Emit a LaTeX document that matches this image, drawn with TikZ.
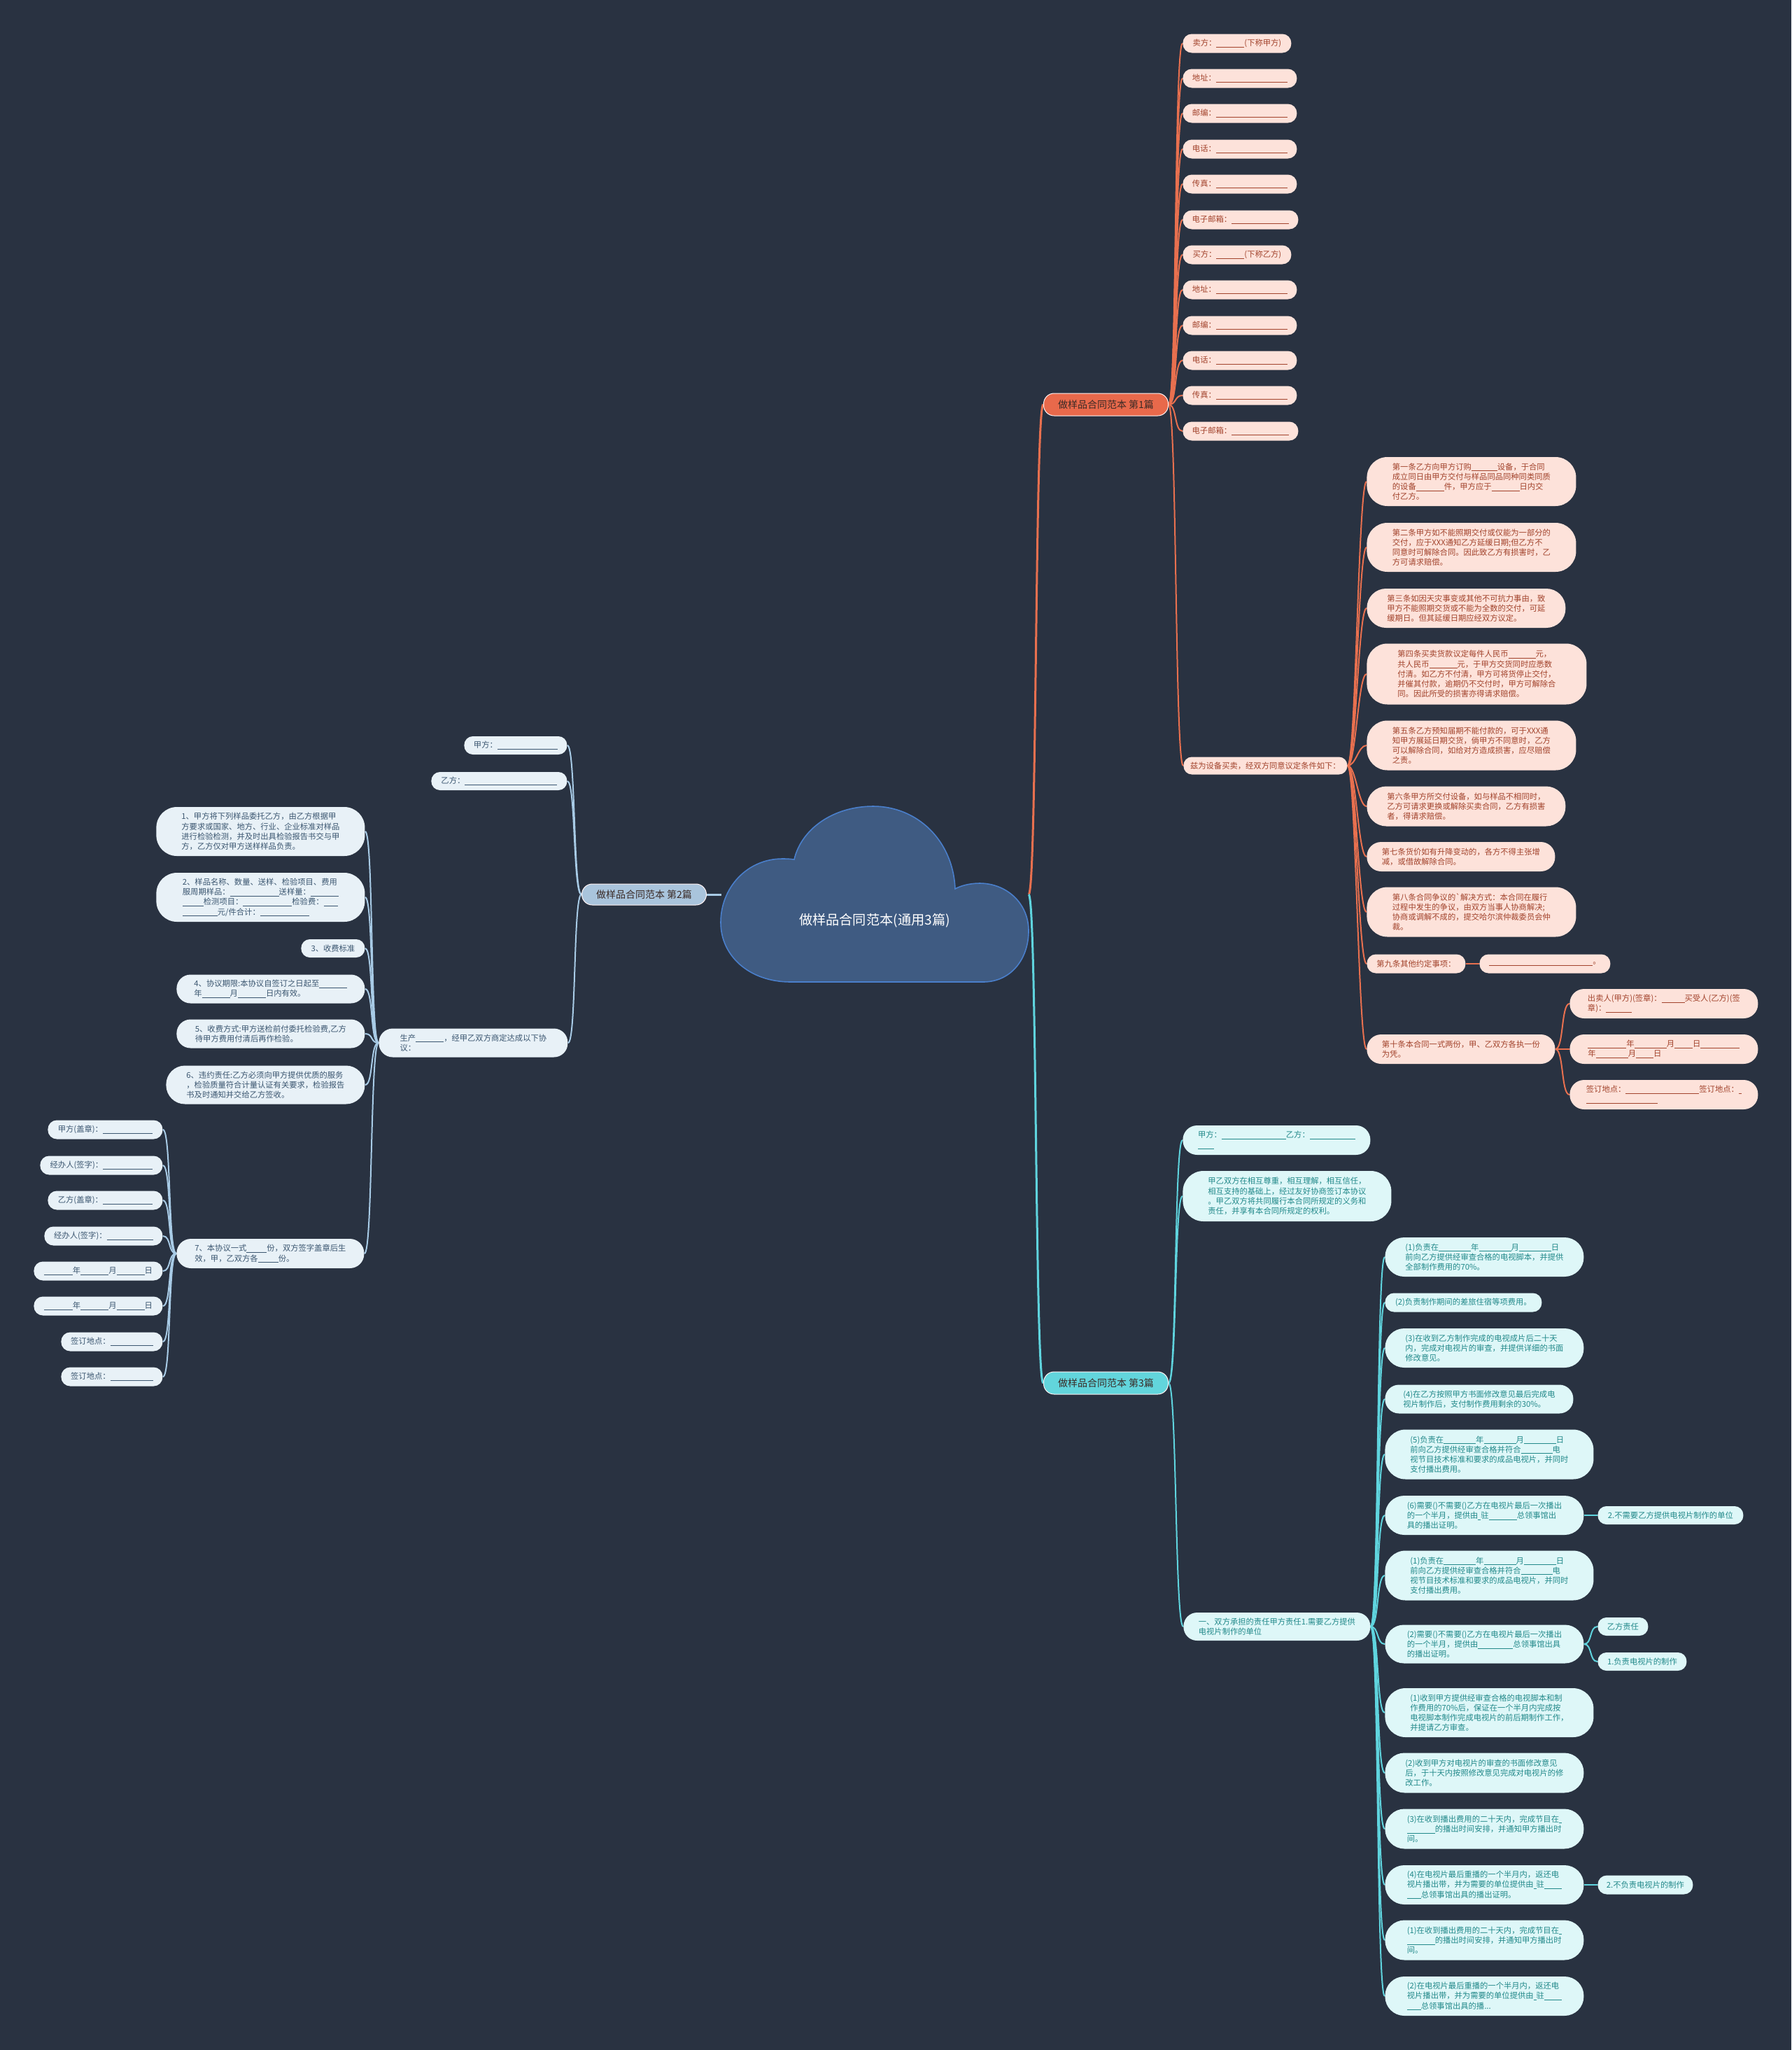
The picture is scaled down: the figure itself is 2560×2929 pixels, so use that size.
\documentclass[tikz,border=0pt]{standalone}
\usepackage{fontspec}
\newfontfamily\cjk{Noto Sans CJK SC}
\usetikzlibrary{backgrounds}
\newdimen\px \px=0.5pt
\newcommand\bl[1]{\rule[-0.9pt]{#1\px}{0.3pt}}
\definecolor{bgc}{HTML}{293241}
\definecolor{cloudf}{HTML}{3F5B82}
\definecolor{cloudd}{HTML}{4A7FCB}
\definecolor{oline}{HTML}{E8704F}
\definecolor{onode}{HTML}{E8694B}
\definecolor{oleaf}{HTML}{FDE2DA}
\definecolor{otext}{HTML}{A2432C}
\definecolor{bline}{HTML}{A8CBE6}
\definecolor{bnode}{HTML}{A9C4DC}
\definecolor{bleaf}{HTML}{E8F1F7}
\definecolor{btext}{HTML}{3B5670}
\definecolor{cline}{HTML}{5FD4DE}
\definecolor{cnode}{HTML}{62D5DC}
\definecolor{cleaf}{HTML}{DEF7F8}
\definecolor{ctext}{HTML}{22898A}
\definecolor{mtext}{HTML}{3A2A26}
\tikzset{
  tx/.style={font=\cjk\fontsize{5.65pt}{7.1pt}\selectfont, align=left, inner sep=0pt},
  lo/.style={tx, fill=oleaf, text=otext},
  lb/.style={tx, fill=bleaf, text=btext},
  lc/.style={tx, fill=cleaf, text=ctext},
  mainnode/.style={font=\cjk\fontsize{7pt}{8pt}\selectfont, inner sep=0pt, rounded corners=7.5pt, draw=white!80!pink, line width=0.5pt},
  wo/.style={draw=oline, line width=1pt},
  wb/.style={draw=bline, line width=1pt},
  wc/.style={draw=cline, line width=1pt},
}
\newcommand\bx[7]{\node[#1,anchor=west,minimum width=#5*0.5pt,minimum height=#6*0.5pt,rounded corners={(min(#6/2,30)-0.6)*0.5pt}] (#2) at (#3,#4) {#7};}
\newcommand\cR[3]{\draw[#1] (#2.east) .. controls +(12,0) and +(-12,0) .. (#3.west);}
\newcommand\cL[3]{\draw[#1] (#2.west) .. controls +(-12,0) and +(12,0) .. (#3.east);}
\begin{document}
\begin{tikzpicture}[x=0.5pt,y=-0.5pt]
\useasboundingbox (0,0) rectangle (2560,2929);
% ---------- root cloud ----------
\draw[fill=cloudf, draw=cloudd, line width=0.8pt]
  (1130,1403) -- (1405,1403) .. controls (1445,1403) and (1470,1370) .. (1470,1330)
  .. controls (1470,1290) and (1438,1262) .. (1400,1262)
  .. controls (1385,1262) and (1372,1266) .. (1365,1270)
  .. controls (1362,1200) and (1310,1152) .. (1248,1152)
  .. controls (1190,1152) and (1145,1185) .. (1135,1228)
  .. controls (1128,1227) and (1122,1227) .. (1118,1227)
  .. controls (1068,1227) and (1030,1268) .. (1030,1318)
  .. controls (1030,1365) and (1070,1403) .. (1130,1403) -- cycle;
\node[font=\cjk\fontsize{9.6pt}{11pt}\selectfont, text=white] (root) at (1250,1315) {做样品合同范本(通用3篇)};
\coordinate (rootR) at (1470,1278);
\coordinate (rootL) at (1031,1278);
% ---------- main branches ----------
\node[mainnode, fill=onode, text=mtext, anchor=west, minimum width=89pt, minimum height=16pt] (m1) at (1491,578) {做样品合同范本 第1篇};
\node[mainnode, fill=bnode, text=mtext, anchor=west, minimum width=89pt, minimum height=15pt] (m2) at (831,1278) {做样品合同范本 第2篇};
\node[mainnode, fill=cnode, text=mtext, anchor=west, minimum width=89pt, minimum height=16pt] (m3) at (1491,1976) {做样品合同范本 第3篇};
% ---------- branch 1 ----------
\bx{lo}{n1a}{1690}{62}{155}{27}{卖方：\bl{40}(下称甲方)}
\bx{lo}{n1b}{1690}{112}{163}{27}{地址：\bl{102}}
\bx{lo}{n1c}{1690}{162}{163}{27}{邮编：\bl{102}}
\bx{lo}{n1d}{1690}{213}{163}{27}{电话：\bl{102}}
\bx{lo}{n1e}{1690}{263}{163}{27}{传真：\bl{102}}
\bx{lo}{n1f}{1690}{314}{165}{27}{电子邮箱：\bl{82}}
\bx{lo}{n1g}{1690}{364}{155}{27}{买方：\bl{40}(下称乙方)}
\bx{lo}{n1h}{1690}{414}{163}{27}{地址：\bl{102}}
\bx{lo}{n1i}{1690}{465}{163}{27}{邮编：\bl{102}}
\bx{lo}{n1j}{1690}{515}{163}{27}{电话：\bl{102}}
\bx{lo}{n1k}{1690}{565}{163}{27}{传真：\bl{102}}
\bx{lo}{n1l}{1690}{616}{165}{27}{电子邮箱：\bl{82}}
\bx{lo}{n1m}{1691}{1094}{234}{25}{兹为设备买卖，经双方同意议定条件如下：}
\bx{lo}{a1}{1953}{688}{299}{70}{第一条乙方向甲方订购\bl{37}设备，于合同\\成立同日由甲方交付与样品同品同种同类同质\\的设备\bl{40}件，甲方应于\bl{40}日内交\\付乙方。}
\bx{lo}{a2}{1953}{782}{299}{70}{第二条甲方如不能照期交付或仅能为一部分的\\交付，应于XXX通知乙方延缓日期;但乙方不\\同意时可解除合同。因此致乙方有损害时，乙\\方可请求赔偿。}
\bx{lo}{a3}{1953}{869}{284}{56}{第三条如因天灾事变或其他不可抗力事由，致\\甲方不能照期交货或不能为全数的交付，可延\\缓期日。但其延缓日期应经双方议定。}
\bx{lo}{a4}{1953}{963}{314}{87}{第四条买卖货款议定每件人民币\bl{39}元，\\共人民币\bl{40}元，于甲方交货同时应悉数\\付清。如乙方不付清，甲方可将货停止交付，\\并催其付款，逾期仍不交付时，甲方可解除合\\同。因此所受的损害亦得请求赔偿。}
\bx{lo}{a5}{1953}{1065}{299}{71}{第五条乙方预知届期不能付款的，可于XXX通\\知甲方展延日期交货，倘甲方不同意时，乙方\\可以解除合同，如给对方造成损害，应尽赔偿\\之责。}
\bx{lo}{a6}{1953}{1152}{284}{57}{第六条甲方所交付设备，如与样品不相同时，\\乙方可请求更换或解除买卖合同，乙方有损害\\者，得请求赔偿。}
\bx{lo}{a7}{1953}{1224}{269}{42}{第七条货价如有升降变动的，各方不得主张增\\减，或借故解除合同。}
\bx{lo}{a8}{1953}{1303}{299}{71}{第八条合同争议的\textasciigrave 解决方式：本合同在履行\\过程中发生的争议，由双方当事人协商解决;\\协商或调解不成的，提交哈尔滨仲裁委员会仲\\裁。}
\bx{lo}{a9}{1953}{1377}{141}{27}{第九条其他约定事项：}
\bx{lo}{a9c}{2114}{1377}{187}{27}{\bl{148}。}
\bx{lo}{a10}{1953}{1499}{269}{42}{第十条本合同一式两份，甲、乙双方各执一份\\为凭。}
\bx{lo}{a10a}{2243}{1434}{269}{42}{出卖人(甲方)(签章)：\bl{33}买受人(乙方)(签\\章)：\bl{37}}
\bx{lo}{a10b}{2243}{1499}{269}{42}{\bl{55}年\bl{46}月\bl{26}日\bl{56}\\年\bl{46}月\bl{25}日}
\bx{lo}{a10c}{2243}{1564}{269}{42}{签订地点：\bl{105}签订地点：\bl{4}\\\bl{102}}
% ---------- branch 3 ----------
\bx{lc}{b1}{1690}{1629}{268}{42}{甲方：\bl{92}乙方：\bl{65}\\\bl{23}}
\bx{lc}{b2}{1690}{1709}{298}{72}{甲乙双方在相互尊重，相互理解，相互信任，\\相互支持的基础上，经过友好协商签订本协议\\。甲乙双方将共同履行本合同所规定的义务和\\责任，并享有本合同所规定的权利。}
\bx{lc}{b3}{1691}{2324}{267}{40}{一、双方承担的责任甲方责任1.需要乙方提供\\电视片制作的单位}
\bx{lc}{c1}{1979}{1796}{284}{56}{(1)负责在\bl{46}年\bl{46}月\bl{46}日\\前向乙方提供经审查合格的电视脚本，并提供\\全部制作费用的70\%。}
\bx{lc}{c2}{1979}{1861}{224}{27}{(2)负责制作期间的差旅住宿等项费用。}
\bx{lc}{c3}{1979}{1926}{284}{56}{(3)在收到乙方制作完成的电视成片后二十天\\内，完成对电视片的审查，并提供详细的书面\\修改意见。}
\bx{lc}{c4}{1979}{1999}{269}{41}{(4)在乙方按照甲方书面修改意见最后完成电\\视片制作后，支付制作费用剩余的30\%。}
\bx{lc}{c5}{1979}{2078}{298}{71}{(5)负责在\bl{46}年\bl{46}月\bl{46}日\\前向乙方提供经审查合格并符合\bl{45}电\\视节目技术标准和要求的成品电视片，并同时\\支付播出费用。}
\bx{lc}{c6}{1979}{2165}{284}{56}{(6)需要()不需要()乙方在电视片最后一次播出\\的一个半月，提供由\bl{4}驻\bl{40}总领事馆出\\具的播出证明。}
\bx{lc}{c6a}{2283}{2165}{208}{26}{2.不需要乙方提供电视片制作的单位}
\bx{lc}{c7}{1979}{2251}{298}{71}{(1)负责在\bl{46}年\bl{46}月\bl{46}日\\前向乙方提供经审查合格并符合\bl{45}电\\视节目技术标准和要求的成品电视片，并同时\\支付播出费用。}
\bx{lc}{c8}{1979}{2349}{284}{55}{(2)需要()不需要()乙方在电视片最后一次播出\\的一个半月，提供由\bl{50}总领事馆出具\\的播出证明。}
\bx{lc}{c8a}{2283}{2324}{72}{26}{乙方责任}
\bx{lc}{c8b}{2283}{2374}{127}{26}{1.负责电视片的制作}
\bx{lc}{c9}{1979}{2447}{298}{70}{(1)收到甲方提供经审查合格的电视脚本和制\\作费用的70\%后，保证在一个半月内完成按\\电视脚本制作完成电视片的前后期制作工作，\\并提请乙方审查。}
\bx{lc}{c10}{1979}{2533}{284}{57}{(2)收到甲方对电视片的审查的书面修改意见\\后，于十天内按照修改意见完成对电视片的修\\改工作。}
\bx{lc}{c11}{1979}{2613}{284}{57}{(3)在收到播出费用的二十天内，完成节目在\bl{4}\\\bl{40}的播出时间安排，并通知甲方播出时\\间。}
\bx{lc}{c12}{1979}{2693}{284}{56}{(4)在电视片最后重播的一个半月内，返还电\\视片播出带，并为需要的单位提供由\bl{4}驻\bl{25}\\\bl{20}总领事馆出具的播出证明。}
\bx{lc}{c12a}{2283}{2693}{136}{27}{2.不负责电视片的制作}
\bx{lc}{c13}{1979}{2772}{284}{57}{(1)在收到播出费用的二十天内，完成节目在\bl{4}\\\bl{40}的播出时间安排，并通知甲方播出时\\间。}
\bx{lc}{c14}{1979}{2852}{284}{56}{(2)在电视片最后重播的一个半月内，返还电\\视片播出带，并为需要的单位提供由\bl{4}驻\bl{25}\\\bl{20}总领事馆出具的播...}
% ---------- branch 2 ----------
\bx{lb}{d1}{663}{1065}{147}{26}{甲方：\bl{86}}
\bx{lb}{d2}{616}{1116}{194}{26}{乙方：\bl{132}}
\bx{lb}{d3}{541}{1490}{270}{41}{生产\bl{40}，经甲乙双方商定达成以下协\\议：}
\bx{lb}{e1}{223}{1188}{298}{70}{1、甲方将下列样品委托乙方，由乙方根据甲\\方要求或国家、地方、行业、企业标准对样品\\进行检验检测，并及时出具检验报告书交与甲\\方，乙方仅对甲方送样样品负责。}
\bx{lb}{e2}{223}{1282}{298}{70}{2、样品名称、数量、送样、检验项目、费用\\服周期样品：\bl{70}送样量：\bl{40}\\\bl{30}检测项目：\bl{70}检验费：\bl{20}\\\bl{50}元/件合计：\bl{70}}
\bx{lb}{e3}{430}{1355}{91}{26}{3、收费标准}
\bx{lb}{e4}{252}{1413}{269}{41}{4、协议期限:本协议自签订之日起至\bl{40}\\年\bl{40}月\bl{40}日内有效。}
\bx{lb}{e5}{252}{1477}{269}{41}{5、收费方式:甲方送检前付委托检验费,乙方\\待甲方费用付清后再作检验。}
\bx{lb}{e6}{237}{1550}{284}{55}{6、违约责任:乙方必须向甲方提供优质的服务\\，检验质量符合计量认证有关要求，检验报告\\书及时通知并交给乙方签收。}
\bx{lb}{e7}{252}{1791}{268}{42}{7、本协议一式\bl{29}份，双方签字盖章后生\\效，甲，乙双方各\bl{29}份。}
\bx{lb}{f1}{68}{1614}{164}{27}{甲方(盖章)：\bl{71}}
\bx{lb}{f2}{57}{1665}{175}{27}{经办人(签字)：\bl{71}}
\bx{lb}{f3}{68}{1715}{164}{27}{乙方(盖章)：\bl{71}}
\bx{lb}{f4}{63}{1766}{169}{27}{经办人(签字)：\bl{66}}
\bx{lb}{f5}{48}{1816}{184}{27}{\bl{41}年\bl{40}月\bl{40}日}
\bx{lb}{f6}{48}{1866}{184}{27}{\bl{41}年\bl{40}月\bl{40}日}
\bx{lb}{f7}{87}{1917}{145}{27}{签订地点：\bl{61}}
\bx{lb}{f8}{87}{1967}{145}{27}{签订地点：\bl{61}}
% ---------- connectors ----------
\begin{pgfonlayer}{background}
\fill[bgc] (0,0) rectangle (2560,2929);
\draw[draw=oline, line width=1.5pt] (rootR) .. controls +(12,0) and +(-12,0) .. (m1.west);
\draw[draw=cline, line width=1.5pt] (rootR) .. controls +(12,0) and +(-12,0) .. (m3.west);
\draw[draw=bline, line width=1.5pt] (rootL) -- (m2.east);
\foreach \c in {n1a,n1b,n1c,n1d,n1e,n1f,n1g,n1h,n1i,n1j,n1k,n1l,n1m} {\cR{wo}{m1}{\c}}
\foreach \c in {a1,a2,a3,a4,a5,a6,a7,a8,a9,a10} {\cR{wo}{n1m}{\c}}
\draw[wo] (a9.east) -- (a9c.west);
\foreach \c in {a10a,a10b,a10c} {\cR{wo}{a10}{\c}}
\foreach \c in {b1,b2,b3} {\cR{wc}{m3}{\c}}
\foreach \c in {c1,c2,c3,c4,c5,c6,c7,c8,c9,c10,c11,c12,c13,c14} {\cR{wc}{b3}{\c}}
\draw[wc] (c6.east) -- (c6a.west);
\draw[wc] (c12.east) -- (c12a.west);
\foreach \c in {c8a,c8b} {\cR{wc}{c8}{\c}}
\foreach \c in {d1,d2,d3} {\cL{wb}{m2}{\c}}
\foreach \c in {e1,e2,e3,e4,e5,e6,e7} {\cL{wb}{d3}{\c}}
\foreach \c in {f1,f2,f3,f4,f5,f6,f7,f8} {\cL{wb}{e7}{\c}}
\end{pgfonlayer}
\end{tikzpicture}
\end{document}
